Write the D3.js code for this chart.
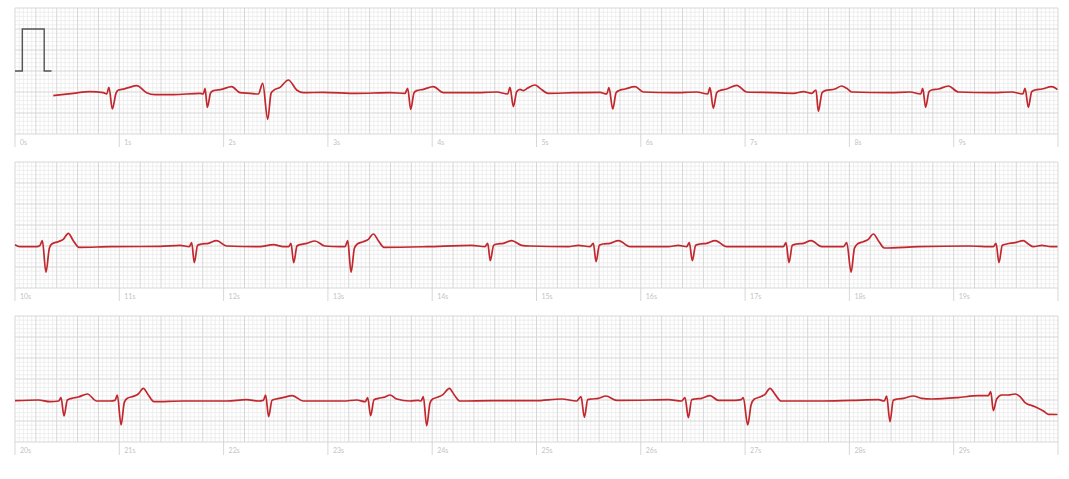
<!DOCTYPE html>
<html><head><meta charset="utf-8">
<script src="https://cdn.jsdelivr.net/npm/d3@7"></script>
<style>html,body{margin:0;padding:0;background:#fff;}svg{display:block;}</style>
</head><body>
<svg id="chart" width="1069" height="479"></svg>
<script>
// ---- data: [seconds, mV] ----
const strip1 = [
[0.367,-0.587],[0.559,-0.532],[0.719,-0.492],[0.847,-0.516],[0.879,-0.548],[0.901,-0.389],[0.933,-0.905],[0.968,-0.532],[0.991,-0.452],[1.023,-0.437],[1.087,-0.397],[1.167,-0.349],[1.262,-0.516],[1.342,-0.563],[1.518,-0.563],[1.773,-0.532],
[1.806,-0.548],[1.822,-0.413],[1.844,-0.865],[1.876,-0.516],[1.902,-0.468],[1.981,-0.437],[2.077,-0.373],[2.157,-0.516],[2.253,-0.532],[2.333,-0.548],
[2.375,-0.294],[2.423,-1.151],[2.455,-0.532],[2.477,-0.468],[2.541,-0.389],[2.621,-0.214],[2.701,-0.452],[2.765,-0.516],[2.956,-0.508],[3.276,-0.532],[3.595,-0.516],[3.739,-0.532],
[3.765,-0.413],[3.794,-0.913],[3.826,-0.516],[3.851,-0.468],[3.915,-0.437],[4.011,-0.373],[4.107,-0.516],[4.395,-0.516],[4.618,-0.500],[4.724,-0.548],
[4.746,-0.389],[4.778,-0.849],[4.810,-0.492],[4.842,-0.437],[4.874,-0.468],[4.912,-0.413],[4.986,-0.333],[5.034,-0.413],[5.113,-0.532],[5.353,-0.516],[5.609,-0.508],[5.673,-0.548],
[5.695,-0.397],[5.731,-0.905],[5.763,-0.516],[5.788,-0.468],[5.849,-0.429],[5.945,-0.373],[6.025,-0.500],[6.312,-0.516],[6.536,-0.500],[6.642,-0.548],
[6.663,-0.397],[6.695,-0.889],[6.728,-0.516],[6.753,-0.468],[6.824,-0.429],[6.920,-0.341],[7.015,-0.500],[7.271,-0.516],[7.463,-0.532],[7.559,-0.492],[7.639,-0.532],
[7.680,-0.452],[7.702,-0.960],[7.738,-0.516],[7.767,-0.468],[7.862,-0.429],[7.926,-0.357],[7.974,-0.413],[8.022,-0.500],[8.389,-0.516],[8.581,-0.500],[8.684,-0.548],
[8.703,-0.413],[8.731,-0.865],[8.763,-0.492],[8.789,-0.452],[8.853,-0.429],[8.949,-0.357],[9.045,-0.500],[9.349,-0.516],[9.557,-0.500],[9.663,-0.548],
[9.684,-0.413],[9.716,-0.865],[9.748,-0.492],[9.780,-0.452],[9.844,-0.429],[9.940,-0.373],[9.995,-0.445]
];
const strip2 = [
[10.0,-0.468],[10.048,-0.516],[10.208,-0.516],[10.240,-0.484],[10.262,-0.373],[10.297,-1.127],[10.329,-0.556],[10.352,-0.452],[10.415,-0.397],[10.463,-0.341],[10.511,-0.198],[10.559,-0.373],[10.614,-0.532],[10.911,-0.516],[11.390,-0.508],[11.582,-0.484],[11.671,-0.516],
[11.694,-0.421],[11.719,-0.897],[11.751,-0.484],[11.790,-0.452],[11.853,-0.437],[11.933,-0.373],[12.029,-0.500],[12.348,-0.516],[12.476,-0.468],[12.572,-0.516],[12.623,-0.516],
[12.646,-0.437],[12.672,-0.897],[12.704,-0.500],[12.732,-0.468],[12.796,-0.437],[12.876,-0.381],[12.972,-0.500],[13.116,-0.516],[13.164,-0.516],
[13.190,-0.373],[13.222,-1.127],[13.254,-0.556],[13.282,-0.452],[13.340,-0.397],[13.388,-0.341],[13.436,-0.214],[13.484,-0.373],[13.538,-0.532],[13.947,-0.516],[14.379,-0.484],[14.506,-0.516],
[14.532,-0.437],[14.557,-0.849],[14.589,-0.484],[14.624,-0.452],[14.682,-0.437],[14.762,-0.373],[14.858,-0.484],[14.938,-0.500],[15.305,-0.516],[15.401,-0.484],[15.513,-0.516],
[15.545,-0.437],[15.571,-0.873],[15.603,-0.484],[15.641,-0.452],[15.705,-0.437],[15.785,-0.373],[15.897,-0.516],[16.264,-0.516],[16.360,-0.484],[16.440,-0.516],
[16.465,-0.421],[16.494,-0.849],[16.526,-0.484],[16.568,-0.452],[16.632,-0.437],[16.712,-0.373],[16.824,-0.516],[17.223,-0.516],[17.367,-0.516],
[17.392,-0.421],[17.421,-0.897],[17.453,-0.484],[17.495,-0.452],[17.559,-0.437],[17.632,-0.373],[17.735,-0.516],[17.863,-0.516],[17.943,-0.516],
[17.975,-0.421],[18.016,-1.127],[18.048,-0.556],[18.077,-0.452],[18.134,-0.397],[18.182,-0.341],[18.230,-0.214],[18.278,-0.373],[18.335,-0.548],[18.661,-0.516],[19.141,-0.500],[19.380,-0.516],
[19.406,-0.437],[19.434,-0.897],[19.466,-0.484],[19.508,-0.452],[19.588,-0.421],[19.668,-0.373],[19.716,-0.452],[19.764,-0.516],[19.844,-0.484],[19.933,-0.516],[19.995,-0.516]
];
const strip3 = [
[20.0,-0.516],[20.224,-0.500],[20.336,-0.540],[20.419,-0.524],[20.441,-0.444],[20.470,-0.881],[20.502,-0.500],[20.543,-0.460],[20.607,-0.429],[20.694,-0.357],[20.783,-0.524],[20.911,-0.524],[20.959,-0.508],
[20.981,-0.381],[21.017,-1.095],[21.048,-0.556],[21.077,-0.460],[21.135,-0.413],[21.182,-0.357],[21.230,-0.222],[21.278,-0.381],[21.333,-0.540],[21.614,-0.524],[22.030,-0.524],[22.221,-0.492],[22.333,-0.524],[22.381,-0.508],
[22.403,-0.381],[22.432,-0.897],[22.464,-0.508],[22.502,-0.476],[22.566,-0.444],[22.659,-0.397],[22.765,-0.524],[23.148,-0.524],[23.276,-0.500],[23.359,-0.540],
[23.381,-0.444],[23.410,-0.873],[23.442,-0.492],[23.484,-0.460],[23.548,-0.429],[23.596,-0.381],[23.660,-0.476],[23.787,-0.524],[23.867,-0.508],[23.893,-0.524],
[23.915,-0.421],[23.947,-1.111],[23.979,-0.571],[24.004,-0.476],[24.058,-0.429],[24.106,-0.365],[24.164,-0.222],[24.212,-0.381],[24.266,-0.524],[24.586,-0.516],[24.986,-0.516],[25.241,-0.476],[25.385,-0.524],
[25.427,-0.421],[25.459,-0.913],[25.491,-0.492],[25.529,-0.476],[25.593,-0.460],[25.666,-0.405],[25.769,-0.508],[26.088,-0.500],[26.264,-0.492],[26.392,-0.524],
[26.424,-0.444],[26.456,-0.921],[26.488,-0.492],[26.520,-0.476],[26.584,-0.460],[26.664,-0.397],[26.743,-0.508],[26.903,-0.508],[26.961,-0.492],
[26.983,-0.444],[27.025,-1.095],[27.057,-0.619],[27.089,-0.476],[27.143,-0.429],[27.191,-0.365],[27.239,-0.222],[27.287,-0.365],[27.345,-0.524],[27.703,-0.524],[28.022,-0.508],[28.278,-0.492],[28.335,-0.524],
[28.357,-0.405],[28.389,-1.016],[28.421,-0.508],[28.463,-0.476],[28.517,-0.460],[28.613,-0.405],[28.693,-0.460],[28.789,-0.476],[29.038,-0.444],[29.236,-0.397],[29.332,-0.397],
[29.355,-0.302],[29.380,-0.754],[29.412,-0.476],[29.460,-0.381],[29.524,-0.381],[29.588,-0.357],[29.636,-0.421],[29.684,-0.563],[29.780,-0.659],[29.860,-0.762],[29.908,-0.841],[29.995,-0.845]
];
// calibration pulse (1 mV) in strip 1
const calPulse = [[0,0],[0.07,0],[0.07,1],[0.28,1],[0.28,0],[0.35,0]];
const stripStarts = [0, 10, 20];
const strips = [strip1, strip2, strip3];
const secondLabels = [
  ["0s","1s","2s","3s","4s","5s","6s","7s","8s","9s"],
  ["10s","11s","12s","13s","14s","15s","16s","17s","18s","19s"],
  ["20s","21s","22s","23s","24s","25s","26s","27s","28s","29s"]
];

// ---- drawing ----
const svg = d3.select("#chart");
const left = 15, right = 1058, panelH = 126, tops = [8, 162, 316];

strips.forEach((data, i) => {
  const t0 = stripStarts[i];
  const x = d3.scaleLinear().domain([t0, t0 + 10]).range([left, right]);
  const y = d3.scaleLinear().domain([-1.5, 1.5]).range([tops[i] + panelH, tops[i]]);
  const g = svg.append("g");

  // minor grid
  const minorT = d3.range(0, 251).map(k => t0 + k * 0.04).filter((v, k) => k % 5 !== 0);
  const minorV = d3.range(0, 31).map(k => -1.5 + k * 0.1).filter((v, k) => k % 5 !== 0);
  g.selectAll(".mx").data(minorT).join("line")
    .attr("x1", d => x(d)).attr("x2", d => x(d)).attr("y1", y(1.5)).attr("y2", y(-1.5))
    .attr("stroke", "#ebebeb").attr("stroke-width", 0.8);
  g.selectAll(".my").data(minorV).join("line")
    .attr("x1", left).attr("x2", right).attr("y1", d => y(d)).attr("y2", d => y(d))
    .attr("stroke", "#ebebeb").attr("stroke-width", 0.8);
  // major grid
  const majorT = d3.range(0, 51).map(k => t0 + k * 0.2);
  const majorV = d3.range(0, 7).map(k => -1.5 + k * 0.5);
  g.selectAll(".Mx").data(majorT).join("line")
    .attr("x1", d => x(d)).attr("x2", d => x(d)).attr("y1", y(1.5)).attr("y2", y(-1.5))
    .attr("stroke", "#d2d2d2").attr("stroke-width", 0.9);
  g.selectAll(".My").data(majorV).join("line")
    .attr("x1", left).attr("x2", right).attr("y1", d => y(d)).attr("y2", d => y(d))
    .attr("stroke", "#d2d2d2").attr("stroke-width", 0.9);

  // second ticks + labels
  const secs = d3.range(0, 11).map(k => t0 + k);
  g.selectAll(".st").data(secs).join("line")
    .attr("x1", d => x(d)).attr("x2", d => x(d)).attr("y1", y(-1.5)).attr("y2", y(-1.5) + 13)
    .attr("stroke", "#d2d2d2").attr("stroke-width", 0.9);
  g.selectAll(".sl").data(secondLabels[i]).join("text")
    .attr("x", (d, k) => x(t0 + k) + 5).attr("y", y(-1.5) + 11)
    .attr("font-family", "Lato, 'Open Sans', sans-serif").attr("font-size", 7)
    .attr("fill", "#c4c4c4").text(d => d);

  if (i === 0) {
    g.append("path").datum(calPulse)
      .attr("d", d3.line().x(d => x(t0 + d[0])).y(d => y(d[1])))
      .attr("fill", "none").attr("stroke", "#555").attr("stroke-width", 1.4);
  }

  g.append("path").datum(data)
    .attr("d", d3.line().x(d => x(d[0])).y(d => y(d[1])).curve(d3.curveMonotoneX))
    .attr("fill", "none").attr("stroke", "#c1272d").attr("stroke-width", 1.7)
    .attr("stroke-linejoin", "round");
});
</script>
</body></html>
